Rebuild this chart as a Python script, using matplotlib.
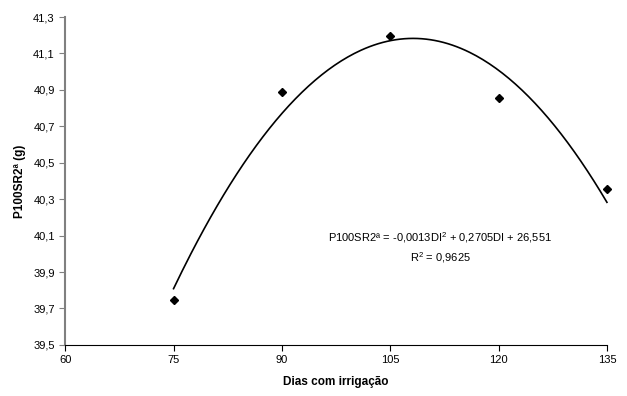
import numpy as np
import matplotlib
matplotlib.use("Agg")
import matplotlib.pyplot as plt
from matplotlib.ticker import FuncFormatter

plt.rcParams['font.family'] = ['Liberation Sans', 'DejaVu Sans']
plt.rcParams['mathtext.default'] = 'regular'

dias = [75, 90, 105, 120, 135]
p100 = [39.745, 40.89, 41.195, 40.855, 40.355]
xticks = [60, 75, 90, 105, 120, 135]
yticks = [39.5, 39.7, 39.9, 40.1, 40.3, 40.5, 40.7, 40.9, 41.1, 41.3]

# quadratic trend line fitted to the points
coef = np.polyfit(dias, p100, 2)
xs = np.linspace(min(dias), max(dias), 200)
ys = np.polyval(coef, xs)

fig = plt.figure(figsize=(6.27, 3.96), dpi=100)
ax = fig.add_axes([0.104, 0.129, 0.864, 0.828])

ax.plot(xs, ys, color='black', lw=1.2, clip_on=False)
ax.plot(dias, p100, 'D', color='black', ms=4.5, clip_on=False, zorder=5)

ax.set_xlim(60, 135)
ax.set_ylim(39.5, 41.3)
ax.set_xticks(xticks)
ax.set_yticks(yticks)
ax.yaxis.set_major_formatter(FuncFormatter(lambda v, p: f"{v:.1f}".replace('.', ',')))
ax.tick_params(labelsize=8, length=4, direction='out')
ax.tick_params(axis='y', colors='#808080', labelcolor='black')

for s in ['top', 'right']:
    ax.spines[s].set_visible(False)
ax.spines['left'].set_color('#808080')
ax.spines['left'].set_linewidth(1.5)
ax.spines['bottom'].set_color('black')

ax.set_xlabel("Dias com irrigação", fontsize=8.5, fontweight='bold', labelpad=8)
ax.set_ylabel("P100SR2ª (g)", fontsize=8.5, fontweight='bold', labelpad=5)

ax.text(111.9, 40.09, "P100SR2ª = -0,0013DI$^2$ + 0,2705DI + 26,551",
        fontsize=8, ha='center', va='center')
ax.text(111.9, 39.98, "R$^2$ = 0,9625", fontsize=8, ha='center', va='center')

fig.savefig("out.png", dpi=100)
